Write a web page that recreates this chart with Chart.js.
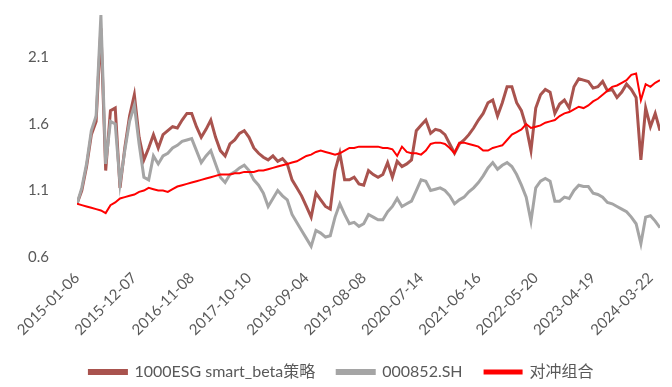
<!DOCTYPE html>
<html>
<head>
<meta charset="utf-8">
<script src="https://cdn.jsdelivr.net/npm/chart.js@4.4.1/dist/chart.umd.min.js"></script>
<style>
  html, body { margin: 0; padding: 0; background: #fff; }
  #wrap { width: 672px; height: 387px; }
</style>
</head>
<body>
<div id="wrap"><canvas id="chartNav"></canvas></div>
<script>
// tick dates shown on the x axis (every 12th sample)
var dateLabels = ['2015-01-06', '2015-12-07', '2016-11-08', '2017-10-10', '2018-09-04', '2019-08-08',
  '2020-07-14', '2021-06-16', '2022-05-20', '2023-04-19', '2024-03-22'];
var yTicks = [0.6, 1.1, 1.6, 2.1];
var seriesNames = ['1000ESG smart_beta策略', '000852.SH', '对冲组合'];

// net value, sampled ~every 19 trading days
var esgStrategy = [
  1.00, 1.10, 1.28, 1.52, 1.62, 2.32, 1.25, 1.70, 1.72, 1.12, 1.42, 1.66,
  1.82, 1.50, 1.33, 1.42, 1.52, 1.42, 1.52, 1.55, 1.58, 1.57, 1.63, 1.68,
  1.68, 1.58, 1.50, 1.56, 1.63, 1.50, 1.40, 1.36, 1.45, 1.48, 1.53, 1.55,
  1.50, 1.42, 1.38, 1.35, 1.33, 1.36, 1.32, 1.34, 1.30, 1.18, 1.12, 1.06,
  0.98, 0.90, 1.08, 1.03, 0.98, 0.96, 1.25, 1.38, 1.18, 1.18, 1.20, 1.15,
  1.14, 1.25, 1.22, 1.20, 1.22, 1.31, 1.20, 1.32, 1.28, 1.30, 1.33, 1.55,
  1.59, 1.63, 1.53, 1.56, 1.55, 1.52, 1.45, 1.38, 1.45, 1.48, 1.52, 1.57,
  1.63, 1.68, 1.76, 1.78, 1.66, 1.76, 1.88, 1.88, 1.76, 1.70, 1.58, 1.40,
  1.72, 1.82, 1.86, 1.84, 1.68, 1.75, 1.78, 1.72, 1.88, 1.94, 1.93, 1.92,
  1.87, 1.88, 1.92, 1.85, 1.86, 1.80, 1.84, 1.90, 1.86, 1.80, 1.33, 1.72,
  1.58, 1.68, 1.55
];
var csi1000 = [
  1.00, 1.12, 1.30, 1.55, 1.66, 2.42, 1.30, 1.62, 1.60, 1.15, 1.40, 1.62,
  1.74, 1.45, 1.20, 1.18, 1.36, 1.30, 1.36, 1.38, 1.42, 1.44, 1.47, 1.48,
  1.49, 1.40, 1.31, 1.36, 1.40, 1.30, 1.20, 1.16, 1.22, 1.24, 1.27, 1.29,
  1.25, 1.18, 1.14, 1.08, 0.98, 1.04, 1.10, 1.06, 1.03, 0.92, 0.86, 0.80,
  0.74, 0.68, 0.80, 0.78, 0.75, 0.76, 0.90, 1.00, 0.92, 0.85, 0.86, 0.83,
  0.85, 0.92, 0.90, 0.88, 0.88, 0.94, 0.98, 1.04, 0.98, 1.00, 1.02, 1.10,
  1.18, 1.17, 1.10, 1.11, 1.12, 1.10, 1.06, 1.00, 1.03, 1.05, 1.09, 1.12,
  1.16, 1.21, 1.27, 1.31, 1.26, 1.29, 1.31, 1.28, 1.22, 1.14, 1.05, 0.87,
  1.12, 1.17, 1.19, 1.17, 1.02, 1.02, 1.05, 1.04, 1.10, 1.14, 1.13, 1.13,
  1.08, 1.07, 1.05, 1.01, 1.00, 0.98, 0.96, 0.94, 0.90, 0.85, 0.70, 0.90,
  0.91, 0.87, 0.82
];
var hedged = [
  1.00, 0.99, 0.98, 0.97, 0.96, 0.95, 0.93, 0.99, 1.01, 1.04, 1.05, 1.06,
  1.07, 1.09, 1.10, 1.12, 1.11, 1.10, 1.10, 1.09, 1.11, 1.13, 1.14, 1.15,
  1.16, 1.17, 1.18, 1.19, 1.20, 1.21, 1.22, 1.22, 1.22, 1.23, 1.23, 1.24,
  1.24, 1.24, 1.25, 1.25, 1.26, 1.27, 1.28, 1.29, 1.30, 1.31, 1.32, 1.34,
  1.36, 1.37, 1.39, 1.40, 1.39, 1.38, 1.37, 1.38, 1.40, 1.42, 1.42, 1.43,
  1.43, 1.43, 1.43, 1.43, 1.42, 1.42, 1.41, 1.36, 1.43, 1.39, 1.38, 1.38,
  1.37, 1.40, 1.45, 1.46, 1.46, 1.45, 1.42, 1.38, 1.46, 1.46, 1.45, 1.44,
  1.43, 1.40, 1.40, 1.42, 1.43, 1.44, 1.48, 1.52, 1.54, 1.56, 1.60, 1.57,
  1.58, 1.59, 1.61, 1.62, 1.63, 1.66, 1.68, 1.69, 1.71, 1.73, 1.72, 1.74,
  1.77, 1.79, 1.82, 1.85, 1.88, 1.89, 1.91, 1.93, 1.97, 1.98, 1.78, 1.90,
  1.88, 1.91, 1.93
];

var samplesPerTick = 12;
var colors = ['#A9534E', '#A5A5A5', '#FF0000'];
var widths = [3, 3, 2];
var values = [esgStrategy, csi1000, hedged];
var fontFamily = 'Lato, "Noto Sans CJK SC", sans-serif';

function initChart() {
  var ctx = document.getElementById('chartNav').getContext('2d');
  var datasets = values.map(function (v, k) {
    return {
      label: seriesNames[k],
      data: v,
      borderColor: colors[k],
      backgroundColor: colors[k],
      borderWidth: widths[k],
      pointRadius: 0,
      tension: 0,
      order: 2 - k   // red on top, then grey, then brown
    };
  });

  new Chart(ctx, {
    type: 'line',
    data: {
      labels: esgStrategy.map(function (_, i) { return i; }),
      datasets: datasets
    },
    options: {
      responsive: true,
      maintainAspectRatio: false,
      animation: false,
      layout: { padding: { top: 0, right: 12, bottom: -3, left: 23 } },
      plugins: {
        tooltip: { enabled: false },
        legend: {
          position: 'bottom',
          labels: {
            boxWidth: 37,
            boxHeight: 3,
            padding: 22,
            color: '#595959',
            font: { family: fontFamily, size: 16 },
            sort: function (a, b) { return a.datasetIndex - b.datasetIndex; }
          }
        }
      },
      scales: {
        x: {
          type: 'linear',
          min: 0,
          max: esgStrategy.length - 1,
          grid: { display: false },
          border: { display: false },
          afterBuildTicks: function (axis) {
            axis.ticks = dateLabels.map(function (_, k) { return { value: k * samplesPerTick }; });
          },
          afterFit: function (axis) { axis.height = 85; },
          ticks: {
            autoSkip: false,
            minRotation: 45,
            maxRotation: 45,
            padding: 4,
            color: '#595959',
            font: { family: fontFamily, size: 15 },
            callback: function (v) { return dateLabels[Math.round(v / samplesPerTick)]; }
          }
        },
        y: {
          min: 0.6,
          max: 2.465,
          grid: { display: false },
          border: { display: false },
          afterBuildTicks: function (axis) {
            axis.ticks = yTicks.map(function (t) { return { value: t }; });
          },
          afterFit: function (axis) {
            axis.width = 54;
            axis.paddingTop = 9;   // keep the big label gap from pushing the plot down
          },
          ticks: {
            padding: 20,
            color: '#595959',
            font: { family: fontFamily, size: 15 },
            callback: function (v) { return v.toFixed(1); }
          }
        }
      }
    }
  });
}
initChart();
</script>
</body>
</html>
